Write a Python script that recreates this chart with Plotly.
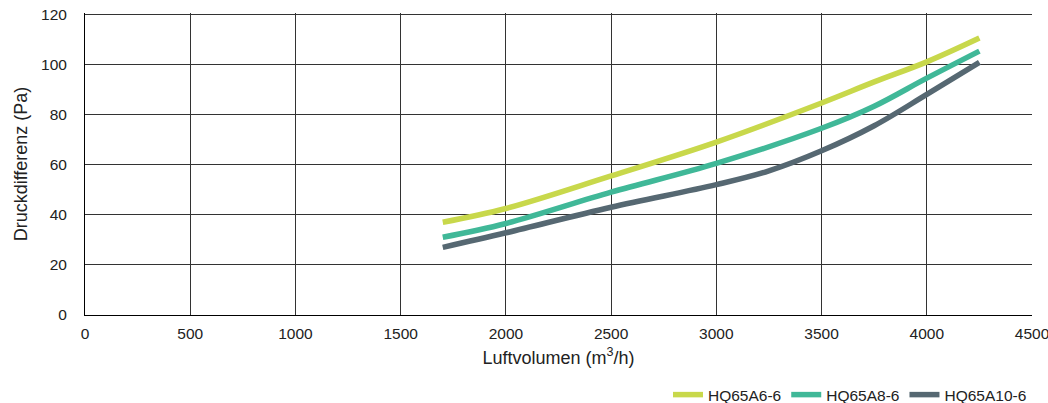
import plotly.graph_objects as go

x_a6 = [1700, 2000, 2500, 3000, 3500, 3750, 4000, 4250]
y_a6 = [37, 42.5, 55.5, 69, 84.6, 93, 101, 110.5]
x_a8 = [1700, 2000, 2500, 3000, 3500, 3750, 4000, 4250]
y_a8 = [31, 36.5, 49, 60.5, 74.5, 83.3, 94.5, 105.3]
x_a10 = [1700, 2000, 2500, 3000, 3250, 3500, 3750, 4000, 4250]
y_a10 = [27, 32.8, 43, 52, 57.5, 65.5, 75.5, 88, 100.8]

names = ["HQ65A6-6", "HQ65A8-6", "HQ65A10-6"]
colors = ["#c8d84b", "#40b898", "#566872"]

fig = go.Figure()
for xs, ys, n, c in zip([x_a6, x_a8, x_a10], [y_a6, y_a8, y_a10], names, colors):
    fig.add_trace(go.Scatter(x=xs, y=ys, name=n, mode="lines",
                             line=dict(color=c, width=5.5, shape="spline", smoothing=1.0)))

font = "Liberation Sans, Arial, Helvetica, sans-serif"
fig.update_layout(
    width=1048, height=403,
    margin=dict(l=85, r=16, t=13, b=88, autoexpand=False),
    plot_bgcolor="white", paper_bgcolor="white",
    font=dict(family=font, size=15.5, color="#222"),
    showlegend=True,
    legend=dict(orientation="h", xanchor="right", x=1.0, yanchor="middle", y=-0.265,
                font=dict(size=15.5), itemwidth=30, traceorder="normal"),
    xaxis=dict(range=[0, 4500], dtick=500, tick0=0, showgrid=True, gridcolor="#333",
               gridwidth=1, showline=True, linecolor="#000", linewidth=1, zeroline=False,
               ticks="outside", ticklen=4, tickcolor="rgba(0,0,0,0)", automargin=False,
               ticklabeloverflow="allow",
               title=dict(text="Luftvolumen (m<sup>3</sup>/h)", font=dict(size=18), standoff=10)),
    yaxis=dict(range=[0, 120.5], dtick=20, tick0=0, showgrid=True, gridcolor="#333",
               gridwidth=1, showline=True, linecolor="#000", linewidth=1, zeroline=False,
               ticks="outside", ticklen=14, tickcolor="rgba(0,0,0,0)", automargin=False,
               ticklabeloverflow="allow",
               title=dict(text="Druckdifferenz (Pa)", font=dict(size=18), standoff=8)),
)
fig.write_html("out.html", post_script="document.body.style.margin='0px';",
               config={"displayModeBar": False})
